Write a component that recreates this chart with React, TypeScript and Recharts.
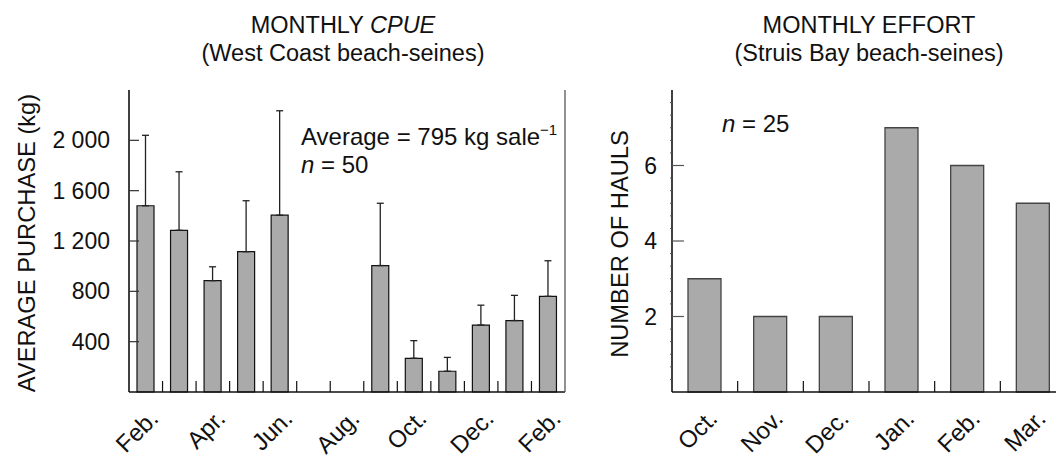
import React from "react";
import { BarChart, Bar, XAxis, YAxis, ErrorBar } from "recharts";

const FONT = "'Liberation Sans', Arial, Helvetica, sans-serif";

// West Coast beach-seines, monthly CPUE (kg per sale)
const cpueMonths = ["Feb.", "Mar.", "Apr.", "May", "Jun.", "Jul.", "Aug.", "Sep.", "Oct.", "Nov.", "Dec.", "Jan.", "Feb."];
const cpueMean = [1480, 1285, 885, 1115, 1405, null, null, 1005, 268, 165, 532, 568, 760];
const cpueUpper = [2040, 1750, 995, 1520, 2235, null, null, 1500, 408, 275, 690, 768, 1043];
const cpueTicks = [400, 800, 1200, 1600, 2000];

// Struis Bay beach-seines, monthly effort
const effortMonths = ["Oct.", "Nov.", "Dec.", "Jan.", "Feb.", "Mar."];
const effortHauls = [3, 2, 2, 7, 6, 5];
const effortTicks = [2, 4, 6];
const effortMinor = [1 / 3, 2 / 3, 1, 4 / 3, 5 / 3, 7 / 3, 8 / 3, 3, 10 / 3, 11 / 3, 13 / 3, 14 / 3, 5, 16 / 3, 17 / 3, 19 / 3, 20 / 3, 7, 22 / 3, 23 / 3];

const cpueData = cpueMonths.map((m, i) => ({
  month: m,
  mean: cpueMean[i],
  err: cpueMean[i] == null ? null : [0, (cpueUpper[i] as number) - (cpueMean[i] as number)],
}));

const effortData = effortMonths.map((m, i) => ({ month: m, hauls: effortHauls[i] }));

function fmtThousands(v: number) {
  return v >= 1000 ? `${Math.floor(v / 1000)} ${String(v % 1000).padStart(3, "0")}` : String(v);
}

function MonthTick(props: any) {
  const { x, y, payload, count, every, half } = props;
  const idx = payload.index;
  const off = payload.offset || half;
  return (
    <g>
      {idx < count - 1 && (
        <line x1={x + off} x2={x + off} y1={y} y2={y - 11} stroke="#111" strokeWidth={1.2} />
      )}
      {idx % every === 0 && (
        <text
          transform={`translate(${x + 14},${y + 28}) rotate(-45)`}
          textAnchor="end"
          fontFamily={FONT}
          fontSize={24}
          fill="#111"
        >
          {payload.value}
        </text>
      )}
    </g>
  );
}

function HaulsTick(props: any) {
  const { x, y, payload } = props;
  const major = effortTicks.includes(payload.value);
  if (!major) {
    return <line x1={x - 2} x2={x} y1={y} y2={y} stroke="#555" strokeWidth={1} />;
  }
  return (
    <g>
      <line x1={x} x2={x + 12} y1={y} y2={y} stroke="#555" strokeWidth={1.2} />
      <text x={x - 15} y={y + 8} textAnchor="end" fontFamily={FONT} fontSize={23} fill="#111">
        {payload.value}
      </text>
    </g>
  );
}

export default function App() {
  return (
    <div
      style={{
        position: "fixed",
        left: 0,
        top: 0,
        width: 1056,
        height: 456,
        overflow: "hidden",
        background: "#fff",
      }}
    >
      {/* left: CPUE */}
      <div style={{ position: "absolute", left: 0, top: 0 }}>
        <BarChart
          width={580}
          height={456}
          data={cpueData}
          margin={{ top: 90, right: 14, bottom: 0, left: 0 }}
          barSize={17}
        >
          <XAxis
            dataKey="month"
            height={64}
            interval={0}
            tickLine={false}
            tickSize={0}
            tickMargin={0}
            axisLine={{ stroke: "#111", strokeWidth: 1.6 }}
            tick={(p: any) => <MonthTick {...p} count={cpueMonths.length} every={2} half={436 / 26} />}
          />
          <XAxis
            xAxisId="top"
            dataKey="month"
            orientation="top"
            height={0}
            tick={false}
            tickLine={false}
            axisLine={{ stroke: "#555", strokeWidth: 1.3 }}
          />
          <YAxis
            width={129}
            domain={[0, 2400]}
            ticks={cpueTicks}
            tickSize={-10}
            tickMargin={29}
            tickFormatter={fmtThousands}
            tick={{ fontFamily: FONT, fontSize: 23, fill: "#111" }}
            tickLine={{ stroke: "#333", strokeWidth: 1.2 }}
            axisLine={{ stroke: "#111", strokeWidth: 1.6 }}
          />
          <YAxis
            yAxisId="frame"
            orientation="right"
            width={1}
            tick={false}
            tickLine={false}
            axisLine={{ stroke: "#555", strokeWidth: 1.3 }}
          />
          <Bar dataKey="mean" fill="#aaaaaa" stroke="#111" strokeWidth={1.2} isAnimationActive={false}>
            <ErrorBar dataKey="err" width={3.5} stroke="#222" strokeWidth={1.3} direction="y" />
          </Bar>
        </BarChart>
      </div>

      {/* right: effort */}
      <div style={{ position: "absolute", left: 530, top: 0 }}>
        <BarChart
          width={560}
          height={456}
          data={effortData}
          margin={{ top: 90, right: 23, bottom: 0, left: 0 }}
          barSize={33}
        >
          <XAxis
            dataKey="month"
            height={64}
            interval={0}
            tickLine={false}
            tickSize={0}
            tickMargin={0}
            axisLine={{ stroke: "#111", strokeWidth: 1.6 }}
            tick={(p: any) => <MonthTick {...p} count={effortMonths.length} every={1} half={394 / 12} />}
          />
          <XAxis
            xAxisId="top"
            dataKey="month"
            orientation="top"
            height={0}
            tick={false}
            tickLine={false}
            axisLine={{ stroke: "#222", strokeWidth: 1.3 }}
          />
          <YAxis
            width={142}
            domain={[0, 8]}
            ticks={[...effortMinor, ...effortTicks].sort((a, b) => a - b)}
            interval={0}
            tickSize={0}
            tickMargin={0}
            tickLine={false}
            tick={(p: any) => <HaulsTick {...p} />}
            axisLine={{ stroke: "#111", strokeWidth: 1.6 }}
          />
          <YAxis
            yAxisId="frame"
            orientation="right"
            width={1}
            tick={false}
            tickLine={false}
            axisLine={{ stroke: "#222", strokeWidth: 1.3 }}
          />
          <Bar dataKey="hauls" fill="#aaaaaa" stroke="#444" strokeWidth={1.3} isAnimationActive={false} />
        </BarChart>
      </div>

      {/* titles and annotations */}
      <svg
        width={1056}
        height={456}
        style={{ position: "absolute", left: 0, top: 0, pointerEvents: "none" }}
        fontFamily={FONT}
        fill="#111"
      >
        <text x={343} y={33} textAnchor="middle" fontSize={23.5}>
          MONTHLY <tspan fontStyle="italic">CPUE</tspan>
        </text>
        <text x={343} y={61} textAnchor="middle" fontSize={23.5}>
          (West Coast beach-seines)
        </text>
        <text x={869} y={33} textAnchor="middle" fontSize={23.5}>
          MONTHLY EFFORT
        </text>
        <text x={869} y={61} textAnchor="middle" fontSize={23.5}>
          (Struis Bay beach-seines)
        </text>

        <text transform="translate(35,243) rotate(-90)" textAnchor="middle" fontSize={23.7}>
          AVERAGE PURCHASE (kg)
        </text>
        <text transform="translate(628,244) rotate(-90)" textAnchor="middle" fontSize={23.7}>
          NUMBER OF HAULS
        </text>

        <text x={301} y={145} fontSize={24}>
          Average = 795 kg sale
          <tspan fontSize={15} dy={-10}>
            −1
          </tspan>
        </text>
        <text x={301} y={173} fontSize={24}>
          <tspan fontStyle="italic">n</tspan> = 50
        </text>
        <text x={722} y={132} fontSize={24}>
          <tspan fontStyle="italic">n</tspan> = 25
        </text>
      </svg>
    </div>
  );
}
